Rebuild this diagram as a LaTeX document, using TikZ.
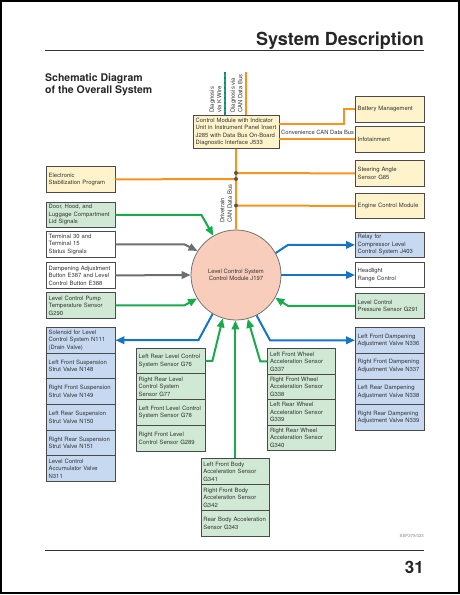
\documentclass[tikz,border=0pt]{standalone}
\usepackage{fontspec}
\setmainfont{TeX Gyre Heros}
\usetikzlibrary{arrows.meta}
\definecolor{cor}{HTML}{F7941E}
\definecolor{cgr}{HTML}{1AAA4E}
\definecolor{cbl}{HTML}{1574C4}
\definecolor{cgy}{HTML}{6D6E71}
\definecolor{fyel}{HTML}{FEF3CA}
\definecolor{fgrn}{HTML}{D0E9D4}
\definecolor{fblu}{HTML}{C6D9F1}
\definecolor{fsal}{HTML}{F9CDBB}
\definecolor{bline}{HTML}{4A4A4A}
\definecolor{txt}{HTML}{333333}
\definecolor{dotc}{HTML}{555555}
\newcommand\bxfont{\fontsize{5.9}{7.5}\selectfont}
\begin{document}
\begin{tikzpicture}[x=1pt,y=-1pt,
  bx/.style={draw=bline, line width=0.8pt, anchor=north west, inner xsep=2.3pt, inner ysep=0.5pt,
    align=left, text width=64pt, font=\bxfont, text=txt, minimum height=26pt},
  yel/.style={bx, fill=fyel}, grn/.style={bx, fill=fgrn},
  blu/.style={bx, fill=fblu}, wht/.style={bx, fill=white},
  bus/.style={draw=cor, line width=2pt},
  tip/.style={-{Triangle[length=9pt,width=7.5pt]}},
  garr/.style={draw=cgr, line width=2pt, tip},
  barr/.style={draw=cbl, line width=2pt, tip},
  yarr/.style={draw=cgy, line width=2pt, tip},
  lbl/.style={font=\bxfont, text=txt, inner sep=0pt},
  rlbl/.style={lbl, rotate=90, anchor=west, align=left}
]
\useasboundingbox (0,0) rectangle (460,595);
\draw[line width=1.5pt] (0.75,0.75) rectangle (458.75,592.75);

% header / footer
\node[anchor=base east, inner sep=0, font=\fontsize{18}{18}\selectfont\bfseries, text=black!85] (title) at (424,45) {System Description};
\draw[line width=1pt, black!80] (45,50) -- (424,50);
\node[anchor=base west, inner sep=0, font=\fontsize{10.5}{12}\selectfont\bfseries, text=black!85] (sub1) at (45,81) {Schematic Diagram};
\node[anchor=base west, inner sep=0, font=\fontsize{10.5}{12}\selectfont\bfseries, text=black!85] (sub2) at (45,93.3) {of the Overall System};
\draw[line width=1pt, black!80] (45,550) -- (424,550);
\node[anchor=base east, inner sep=0, font=\fontsize{17}{17}\selectfont\bfseries, text=black!85] (pg) at (424,573) {31};
\node[anchor=base east, inner sep=0, font=\fontsize{4.3}{5}\selectfont, text=black!50] (ssp) at (424,537) {SSP275/023};

% gateway
\node[yel, text width=81pt, minimum height=33pt] (cm) at (193,115) {Control Module with Indicator\\Unit in Instrument Panel Insert\\J285 with Data Bus On-Board\\Diagnostic Interface J533};

% right column
\node[yel] (bat) at (355,96) {Battery Management};
\node[yel] (inf) at (355,126) {Infotainment};
\node[yel] (sas) at (355,160) {Steering Angle\\Sensor G85};
\node[yel, minimum height=25pt] (ecm) at (355,193) {Engine Control Module};
\node[blu, minimum height=25pt] (rel) at (355,232) {Relay for\\Compressor Level\\Control System J403};
\node[wht, minimum height=25pt] (hrc) at (355,262) {Headlight\\Range Control};
\node[grn, minimum height=25pt] (prs) at (355,293) {Level Control\\Pressure Sensor G291};
\node[blu, minimum height=25.75pt] (rd1) at (355,327) {Left Front Dampening\\Adjustment Valve N336};
\node[blu, minimum height=25.75pt] (rd2) at (355,352.75) {Right Front Dampening\\Adjustment Valve N337};
\node[blu, minimum height=25.75pt] (rd3) at (355,378.5) {Left Rear Dampening\\Adjustment Valve N338};
\node[blu, minimum height=25.75pt] (rd4) at (355,404.25) {Right Rear Dampening\\Adjustment Valve N339};

% left column
\node[yel] (esp) at (46,166) {Electronic\\Stabilization Program};
\node[grn, minimum height=25pt] (door) at (46,202) {Door, Hood, and\\Luggage Compartment\\Lid Signals};
\node[wht] (term) at (46,231) {Terminal 30 and\\Terminal 15\\Status Signals};
\node[wht] (dbtn) at (46,262) {Dampening Adjustment\\Button E387 and Level\\Control Button E388};
\node[grn] (pump) at (46,292) {Level Control Pump\\Temperature Sensor\\G290};
\node[blu, minimum height=25.67pt] (ls1) at (46,327) {Solenoid for Level\\Control System N111\\(Drain Valve)};
\node[blu, minimum height=25.67pt] (ls2) at (46,352.67) {Left Front Suspension\\Strut Valve N148};
\node[blu, minimum height=25.67pt] (ls3) at (46,378.33) {Right Front Suspension\\Strut Valve N149};
\node[blu, minimum height=25.67pt] (ls4) at (46,404) {Left Rear Suspension\\Strut Valve N150};
\node[blu, minimum height=25.67pt] (ls5) at (46,429.67) {Right Rear Suspension\\Strut Valve N151};
\node[blu, minimum height=25.67pt] (ls6) at (46,455.33) {Level Control\\Accumulator Valve\\N311};

% lower stacks
\node[grn, minimum height=25.75pt] (ms1) at (136,347.7) {Left Rear Level Control\\System Sensor G76};
\node[grn, minimum height=25.75pt] (ms2) at (136,373.45) {Right Rear Level\\Control System\\Sensor G77};
\node[grn, minimum height=25.75pt] (ms3) at (136,399.2) {Left Front Level Control\\System Sensor G78};
\node[grn, minimum height=25.75pt] (ms4) at (136,424.95) {Right Front Level\\Control Sensor G289};

\node[grn, text width=63pt, minimum height=25.4pt] (ws1) at (267.3,348.3) {Left Front Wheel\\Acceleration Sensor\\G337};
\node[grn, text width=63pt, minimum height=25.4pt] (ws2) at (267.3,373.7) {Right Front Wheel\\Acceleration Sensor\\G338};
\node[grn, text width=63pt, minimum height=25.4pt] (ws3) at (267.3,399.1) {Left Rear Wheel\\Acceleration Sensor\\G339};
\node[grn, text width=63pt, minimum height=25.4pt] (ws4) at (267.3,424.5) {Right Rear Wheel\\Acceleration Sensor\\G340};

\node[grn, minimum height=25.8pt] (bs1) at (200.7,458.3) {Left Front Body\\Acceleration Sensor\\G341};
\node[grn, minimum height=25.8pt] (bs2) at (200.7,484.1) {Right Front Body\\Acceleration Sensor\\G342};
\node[grn, minimum height=25.8pt] (bs3) at (200.7,509.9) {Rear Body Acceleration\\Sensor G343};

% central control module
\node[circle, draw=black!55, fill=fsal, line width=0.8pt, minimum size=90pt, inner sep=0pt,
  align=center, font=\bxfont, text=txt] (c) at (236,275) {Level Control System\\Control Module J197};

% diagnosis lines
\coordinate (dk) at (225,72);
\coordinate (dc) at (245.7,72);
\draw[cgr, line width=1.6pt] (dk) -- (dk |- cm.north);
\draw[cbl, line width=1.6pt, dash pattern=on 2pt off 3pt] (dk) -- (dk |- cm.north);
\draw[bus, line width=1.6pt] (dc) -- (dc |- cm.north);
\node[rlbl] (dkl) at (215.5,113) {Diagnosis\\via K Wire};
\node[rlbl] (dcl) at (236.5,113) {Diagnosis via\\CAN Data Bus};

% convenience CAN
\draw[bus] ([yshift=8pt]cm.east) -| ([xshift=-11pt]bat.west) -- (bat.west);
\draw[bus] (inf.west -| cm.east) -- (inf.west);
\node[lbl, anchor=base west, font=\fontsize{5.8}{7}\selectfont] (conv) at (281,134) {Convenience CAN Data Bus};

% drivetrain CAN
\coordinate (j1) at (236,173);
\coordinate (j2) at (236,179);
\coordinate (j3) at (236,205.5);
\draw[bus] (cm.south) -- (c.north);
\draw[bus] (j1) -- (sas.west);
\draw[bus] (esp.east) -- (j2);
\draw[bus] (j3) -- (ecm.west);
\fill[dotc] (j1) circle (2pt) (j2) circle (2pt) (j3) circle (2pt);
\node[rlbl] (dtl) at (226,223) {Drivetrain\\CAN Data Bus};

% left inputs
\draw[garr] (door.east) -- ++(86,0) -- (c.120);
\draw[yarr] (term.east) -- ++(69,0) -- (c.148);
\draw[yarr] (dbtn.east) -- (c.west);
\draw[garr] (pump.east) -- ++(69,0) -- (c.211);

% right side
\draw[barr] (c.29) -- ([xshift=-67pt]rel.west) -- (rel.west);
\draw[barr] (c.east) -- (c.east -| hrc.west);
\draw[garr] (prs.west) -- ([xshift=-67pt]prs.west) -- (c.330);
\draw[barr] (c.297) -- ([xshift=-85pt]rd1.west) -- (rd1.west);

% lower
\draw[barr] (c.239) -- ([xshift=83pt]ls1.east) -- (ls1.east);
\draw[garr] (ms1.east) -- ([xshift=7pt]ms1.east) -- (c.253);
\draw[garr] (bs1.north) -- (bs1.north |- c.south);
\draw[garr] (ws1.west) -- ([xshift=-7pt]ws1.west) -- (c.285);
\end{tikzpicture}
\end{document}
